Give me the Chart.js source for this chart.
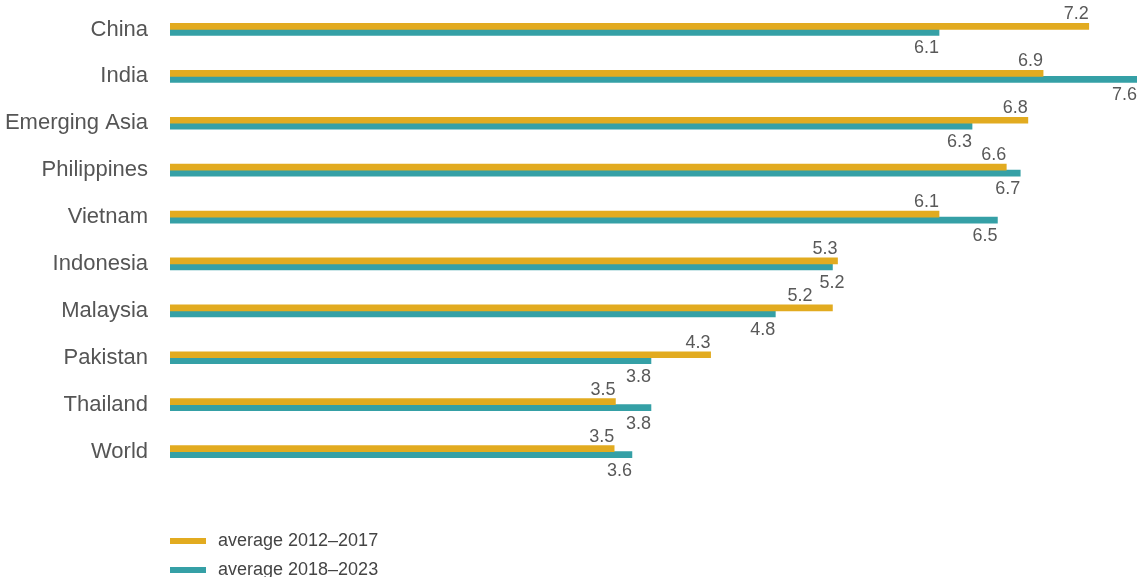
<!DOCTYPE html>
<html>
<head>
<meta charset="utf-8">
<script src="https://cdn.jsdelivr.net/npm/chart.js@4"></script>
<style>
  html, body { margin: 0; padding: 0; background: #fff; }
  #wrap { position: relative; width: 1139px; height: 577px; overflow: hidden; }
  #legend { position: absolute; left: 170px; top: 526px; font-family: "Liberation Sans", Arial, sans-serif; font-size: 18px; color: #444; }
  .item { display: flex; align-items: center; height: 29px; }
  .swatch { width: 36px; height: 6px; margin-right: 12px; }
</style>
</head>
<body>
<div id="wrap">
  <canvas id="myChart" width="1139" height="577"></canvas>
  <div id="legend"></div>
</div>
<script>
const categories = ["China", "India", "Emerging Asia", "Philippines", "Vietnam", "Indonesia", "Malaysia", "Pakistan", "Thailand", "World"];
// GDP growth, % (labels show one decimal)
const avg2012_2017 = [7.24, 6.88, 6.76, 6.59, 6.06, 5.26, 5.22, 4.26, 3.51, 3.50];
const avg2018_2023 = [6.06, 7.62, 6.32, 6.70, 6.52, 5.22, 4.77, 3.79, 3.79, 3.64];
const seriesNames = ["average 2012\u20132017", "average 2018\u20132023"];
const colors = ["#E2AB20", "#35A0A6"];

document.addEventListener("DOMContentLoaded", function () {
  const ctx = document.getElementById("myChart");

  // small shifts so the Indonesia / Malaysia labels don't collide
  const nudge = { "0-Malaysia": -20, "1-Indonesia": 12 };

  // value labels: above the first bar, below the second
  const valueLabels = {
    id: "valueLabels",
    afterDatasetsDraw(chart) {
      const c = chart.ctx;
      c.save();
      c.font = '18px "Liberation Sans", Arial, sans-serif';
      c.fillStyle = "#595959";
      c.textAlign = "right";
      c.textBaseline = "alphabetic";
      chart.data.datasets.forEach((ds, di) => {
        const meta = chart.getDatasetMeta(di);
        meta.data.forEach((bar, i) => {
          const p = bar.getProps(["x", "y", "height"], true);
          const txt = ds.data[i].toFixed(1);
          const dx = nudge[di + "-" + categories[i]] || 0;
          if (di === 0) {
            c.fillText(txt, p.x + dx, p.y - p.height / 2 - 4);
          } else {
            c.fillText(txt, p.x + dx, p.y + p.height / 2 + 18);
          }
        });
      });
      c.restore();
    },
  };

  new Chart(ctx, {
    type: "bar",
    data: {
      labels: categories,
      datasets: [
        { label: seriesNames[0], data: avg2012_2017, backgroundColor: colors[0], barThickness: 6 },
        { label: seriesNames[1], data: avg2018_2023, backgroundColor: colors[1], barThickness: 6 },
      ],
    },
    options: {
      indexAxis: "y",
      responsive: false,
      animation: false,
      layout: { padding: { top: 6, bottom: 102, left: 0, right: 2 } },
      plugins: {
        legend: { display: false },
        tooltip: { enabled: false },
      },
      scales: {
        x: {
          min: 0,
          max: 7.62,
          display: false,
        },
        y: {
          grid: { display: false, drawTicks: false },
          border: { display: false },
          ticks: {
            padding: 22,
            color: "#555",
            font: { family: '"Liberation Sans", Arial, sans-serif', size: 22 },
          },
          afterFit(scale) {
            scale.width = 170;
            scale.paddingTop = 0;
            scale.paddingBottom = 0;
          },
        },
      },
    },
    plugins: [valueLabels],
  });

  // legend
  const legend = document.getElementById("legend");
  seriesNames.forEach((name, i) => {
    const item = document.createElement("div");
    item.className = "item";
    item.innerHTML = '<span class="swatch" style="background:' + colors[i] + '"></span>' + name;
    legend.appendChild(item);
  });
});
</script>
</body>
</html>
